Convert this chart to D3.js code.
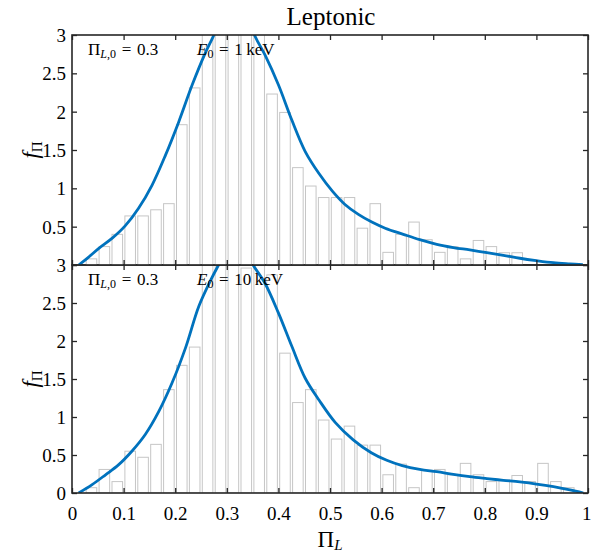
<!DOCTYPE html>
<html>
<head>
<meta charset="utf-8">
<script src="https://cdn.jsdelivr.net/npm/d3@7"></script>
<style>
  body { margin: 0; background: #fff; }
  text { font-family: "Liberation Serif", "DejaVu Serif", serif; fill: #000; }
</style>
</head>
<body>
<div id="chart"></div>
<script>

// histogram bins are 0.025 wide, 40 of them from 0 to 1
var binWidth = 0.025;
var xTicks = [0, 0.1, 0.2, 0.3, 0.4, 0.5, 0.6, 0.7, 0.8, 0.9, 1];
var xTickLabels = ["0", "0.1", "0.2", "0.3", "0.4", "0.5", "0.6", "0.7", "0.8", "0.9", "1"];
var yTicks = [0, 0.5, 1, 1.5, 2, 2.5, 3];
var yTickLabels = ["0", "0.5", "1", "1.5", "2", "2.5", "3"];

// E0 = 1 keV
var histTop = [0, 0.08, 0.24, 0.40, 0.64, 0.64, 0.72, 0.80, 1.83, 2.31,
               3.4, 3.8, 4.0, 3.9, 3.3, 2.23, 1.99, 1.27, 1.03, 0.88,
               0.88, 0.88, 0.48, 0.80, 0.165, 0.40, 0.56, 0.33, 0.165, 0.24,
               0.08, 0.32, 0.24, 0.16, 0.16, 0, 0, 0, 0, 0];
// E0 = 10 keV
var histBottom = [0, 0.07, 0.31, 0.15, 0.55, 0.47, 0.64, 1.36, 1.68, 1.92,
                  3.3, 3.6, 3.5, 2.96, 3.2, 2.87, 1.84, 1.19, 1.36, 0.96,
                  0.71, 0.88, 0.63, 0.63, 0.24, 0.38, 0.07, 0.30, 0.31, 0.24,
                  0.39, 0.24, 0.15, 0.17, 0.23, 0.15, 0.39, 0.15, 0.07, 0];

var curveTopX = [0.013, 0.03, 0.052, 0.078, 0.103, 0.129, 0.155, 0.181, 0.207, 0.233,
                 0.258, 0.275, 0.295, 0.315, 0.335, 0.355, 0.374, 0.40, 0.426, 0.452,
                 0.479, 0.505, 0.529, 0.555, 0.581, 0.607, 0.642, 0.674, 0.707, 0.739,
                 0.771, 0.804, 0.836, 0.868, 0.90, 0.933, 0.965, 0.99];
var curveTopY = [0, 0.09, 0.217, 0.35, 0.51, 0.74, 1.04, 1.43, 1.87, 2.35,
                 2.76, 3.0, 3.35, 3.45, 3.35, 2.98, 2.74, 2.35, 1.89, 1.48,
                 1.19, 0.96, 0.79, 0.66, 0.56, 0.48, 0.40, 0.33, 0.27, 0.228,
                 0.196, 0.16, 0.126, 0.088, 0.057, 0.03, 0.015, 0.005];

var curveBottomX = [0.013, 0.039, 0.065, 0.090, 0.116, 0.142, 0.168, 0.194, 0.220, 0.246,
                    0.271, 0.284, 0.30, 0.318, 0.336, 0.351, 0.374, 0.40, 0.426, 0.452,
                    0.479, 0.51, 0.545, 0.58, 0.61, 0.64, 0.674, 0.707, 0.739, 0.771,
                    0.804, 0.836, 0.868, 0.90, 0.933, 0.965, 0.991];
var curveBottomY = [0, 0.11, 0.24, 0.37, 0.55, 0.77, 1.07, 1.45, 1.91, 2.46,
                    2.83, 3.0, 3.2, 3.28, 3.2, 3.0, 2.76, 2.37, 1.93, 1.51,
                    1.22, 0.93, 0.70, 0.53, 0.43, 0.36, 0.31, 0.28, 0.245, 0.215,
                    0.19, 0.167, 0.145, 0.118, 0.083, 0.04, 0];

var width = 591, height = 554;
var blue = "#0072BD";
var axisColor = "#262626";
var tickFont = "19px";

var svg = d3.select("#chart").append("svg")
  .attr("width", width)
  .attr("height", height);

var x = d3.scaleLinear().domain([0, 1]).range([72, 588]);

var panels = [
  { id: "top", y: d3.scaleLinear().domain([0, 3]).range([265, 35]), hist: histTop,
    cx: curveTopX, cy: curveTopY, energy: "1", labelTicks: yTicks.slice(1), xLabels: false },
  { id: "bottom", y: d3.scaleLinear().domain([0, 3]).range([493, 265]), hist: histBottom,
    cx: curveBottomX, cy: curveBottomY, energy: "10", labelTicks: yTicks, xLabels: true }
];

// bottom panel first so the top panel's curve is not hidden behind it
panels.slice().reverse().forEach(function(p) {
  var y = p.y;
  var top = y.range()[1], bottom = y.range()[0];

  svg.append("clipPath").attr("id", "clip-" + p.id)
    .append("rect")
    .attr("x", x(0)).attr("y", top)
    .attr("width", x(1) - x(0)).attr("height", bottom - top);

  var g = svg.append("g").attr("clip-path", "url(#clip-" + p.id + ")");

  //BARS
  g.selectAll(".bar")
    .data(p.hist)
    .enter().append("rect")
    .attr("class", "bar")
    .attr("x", function(d, i) { return x(i * binWidth + binWidth * 0.1); })
    .attr("width", x(binWidth * 0.82) - x(0))
    .attr("y", function(d) { return y(d); })
    .attr("height", function(d) { return y(0) - y(d); })
    .style("fill", "#fff")
    .style("stroke", "#c6c6c6")
    .style("stroke-width", 1)
    .style("display", function(d) { return d > 0 ? null : "none"; });

  //CURVE
  var pts = p.cx.map(function(d, i) { return [d, p.cy[i]]; });
  var line = d3.line()
    .x(function(d) { return x(d[0]); })
    .y(function(d) { return y(d[1]); })
    .curve(d3.curveCatmullRom.alpha(0.5));

  svg.append("path")
    .datum(pts)
    .attr("clip-path", "url(#clip-" + p.id + ")")
    .attr("d", line)
    .style("fill", "none")
    .style("stroke", blue)
    .style("stroke-width", 2.8);

  //AXES (ticks pointing inward on all four sides)
  var left = svg.append("g")
    .attr("transform", "translate(" + x(0) + ",0)")
    .call(d3.axisLeft(y).tickValues(yTicks).tickSize(-5).tickSizeOuter(0).tickPadding(6)
      .tickFormat(function(d) { return p.labelTicks.indexOf(d) >= 0 ? yTickLabels[yTicks.indexOf(d)] : ""; }));
  svg.append("g")
    .attr("transform", "translate(" + x(1) + ",0)")
    .call(d3.axisRight(y).tickValues(yTicks).tickSize(-5).tickSizeOuter(0).tickFormat(""));
  var bot = svg.append("g")
    .attr("transform", "translate(0," + bottom + ")")
    .call(d3.axisBottom(x).tickValues(xTicks).tickSize(-5).tickSizeOuter(0).tickPadding(14)
      .tickFormat(function(d, i) { return p.xLabels ? xTickLabels[i] : ""; }));
  svg.append("g")
    .attr("transform", "translate(0," + top + ")")
    .call(d3.axisTop(x).tickValues(xTicks).tickSize(-5).tickSizeOuter(0).tickFormat(""));

  svg.selectAll(".domain").remove();
  svg.selectAll(".tick line").style("stroke", axisColor).style("stroke-width", 1.3);
  left.selectAll("text").style("font-size", tickFont).style("font-family", null).attr("dy", "0.34em");
  bot.selectAll("text").style("font-size", tickFont).style("font-family", null).attr("dy", "0.71em");
  // last label sits on the right edge of the figure
  bot.selectAll(".tick:last-of-type text").attr("text-anchor", "end").attr("x", 3);

  svg.append("rect")
    .attr("x", x(0)).attr("y", top)
    .attr("width", x(1) - x(0)).attr("height", bottom - top)
    .style("fill", "none")
    .style("stroke", axisColor)
    .style("stroke-width", 1.6);

  //ANNOTATION
  var ann = svg.append("text")
    .attr("x", 88).attr("y", top + 20)
    .style("font-size", "17px");
  ann.append("tspan").text("\u03A0");
  ann.append("tspan").attr("baseline-shift", "-25%").style("font-size", "12px")
    .style("font-style", "italic").text("L");
  ann.append("tspan").attr("baseline-shift", "-25%").style("font-size", "12px").text(",0");
  ann.append("tspan").text("\u2004=\u20040.3");

  var en = svg.append("text")
    .attr("x", 197).attr("y", top + 20)
    .style("font-size", "17px");
  en.append("tspan").style("font-style", "italic").text("E");
  en.append("tspan").attr("baseline-shift", "-25%").style("font-size", "12px").text("0");
  en.append("tspan").text("\u2004=\u2004" + p.energy + "\u2009keV");

  //Y LABEL
  var yl = svg.append("text")
    .attr("transform", "translate(38," + ((top + bottom) / 2) + ") rotate(-90)")
    .attr("text-anchor", "middle")
    .style("font-size", "23px");
  yl.append("tspan").style("font-style", "italic").text("f");
  yl.append("tspan").attr("baseline-shift", "-25%").style("font-size", "15px").text("\u03A0");
});

//TITLE
svg.append("text")
  .attr("x", 331).attr("y", 25)
  .attr("text-anchor", "middle")
  .style("font-size", "25px")
  .text("Leptonic");

//X LABEL
var xl = svg.append("text")
  .attr("x", 330).attr("y", 547)
  .attr("text-anchor", "middle")
  .style("font-size", "23px");
xl.append("tspan").text("\u03A0");
xl.append("tspan").attr("baseline-shift", "-20%").style("font-size", "15px")
  .style("font-style", "italic").text("L");

</script>
</body>
</html>
